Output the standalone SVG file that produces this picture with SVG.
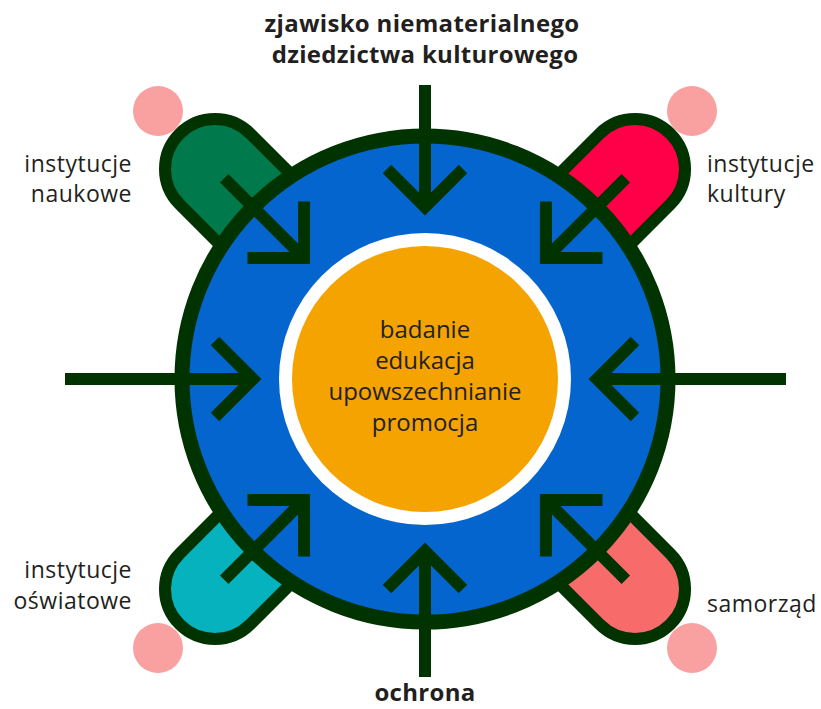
<svg xmlns="http://www.w3.org/2000/svg" width="821" height="709" viewBox="0 0 821 709">
<defs>
<style>
.lbl{font-family:"Open Sans","Liberation Sans",sans-serif;font-size:24px;fill:#231F20}
.side{font-size:23px;letter-spacing:0.5px}
.bold{font-weight:bold;letter-spacing:0.3px}
.cap{stroke:#003300;stroke-width:12;stroke-linejoin:round}
.dot{fill:#F9A0A1}
.arr{fill:none;stroke:#003300;stroke-width:12;stroke-linecap:butt;stroke-linejoin:miter;stroke-miterlimit:10}
</style>
<path id="capsule" d="M -200 -50 L -297 -50 A 50 50 0 0 0 -297 50 L -200 50 Z"/>
</defs>
<rect width="821" height="709" fill="#ffffff"/>

<g id="dots">
<circle class="dot" cx="158" cy="111" r="25"/>
<circle class="dot" cx="692" cy="111" r="25"/>
<circle class="dot" cx="158" cy="648" r="25"/>
<circle class="dot" cx="692" cy="648" r="25"/>
</g>

<g id="node-naukowe">
<use href="#capsule" class="cap" fill="#007A4D" transform="translate(425,379) rotate(45)"/>
<text class="lbl side" text-anchor="end"><tspan x="132" y="172">instytucje</tspan><tspan x="132" y="202">naukowe</tspan></text>
</g>
<g id="node-kultury">
<use href="#capsule" class="cap" fill="#FF0048" transform="translate(425,379) rotate(135)"/>
<text class="lbl side"><tspan x="707" y="172">instytucje</tspan><tspan x="707" y="202">kultury</tspan></text>
</g>
<g id="node-samorzad">
<use href="#capsule" class="cap" fill="#F76B6B" transform="translate(425,379) rotate(225)"/>
<text class="lbl side" x="707" y="612">samorząd</text>
</g>
<g id="node-oswiatowe">
<use href="#capsule" class="cap" fill="#05B2BD" transform="translate(425,379) rotate(315)"/>
<text class="lbl side" text-anchor="end"><tspan x="132" y="578">instytucje</tspan><tspan x="132" y="609">oświatowe</tspan></text>
</g>

<g id="node-center">
<circle cx="425" cy="379" r="243" fill="#0565CE" stroke="#003300" stroke-width="15"/>
<circle cx="425" cy="379" r="146" fill="#ffffff"/>
<circle cx="425" cy="379" r="133" fill="#F5A300"/>
<text class="lbl" text-anchor="middle"><tspan x="425" y="338">badanie</tspan><tspan x="425" y="369">edukacja</tspan><tspan x="425" y="400">upowszechnianie</tspan><tspan x="425" y="431">promocja</tspan></text>
</g>

<g id="node-zjawisko">
<text class="lbl bold" text-anchor="middle"><tspan x="422" y="32">zjawisko niematerialnego</tspan><tspan x="425" y="63">dziedzictwa kulturowego</tspan></text>
</g>
<g id="node-ochrona">
<text class="lbl bold" text-anchor="middle" x="425" y="701">ochrona</text>
</g>

<g id="connectors">
<path class="arr" transform="translate(425,379)" d="M -360 0 L -172 0 M -210 -38 L -172 0 L -210 38"/>
<path class="arr" transform="translate(425,379) rotate(90)" d="M -294 0 L -172 0 M -210 -38 L -172 0 L -210 38"/>
<path class="arr" transform="translate(425,379) rotate(180)" d="M -361 0 L -172 0 M -210 -38 L -172 0 L -210 38"/>
<path class="arr" transform="translate(425,379) rotate(270)" d="M -298 0 L -172 0 M -210 -38 L -172 0 L -210 38"/>
<path class="arr" transform="translate(425,379) rotate(45)" d="M -284 0 L -171 0 M -211 -40 L -171 0 L -211 40"/>
<path class="arr" transform="translate(425,379) rotate(135)" d="M -284 0 L -171 0 M -211 -40 L -171 0 L -211 40"/>
<path class="arr" transform="translate(425,379) rotate(225)" d="M -284 0 L -171 0 M -211 -40 L -171 0 L -211 40"/>
<path class="arr" transform="translate(425,379) rotate(315)" d="M -284 0 L -171 0 M -211 -40 L -171 0 L -211 40"/>
</g>
</svg>
